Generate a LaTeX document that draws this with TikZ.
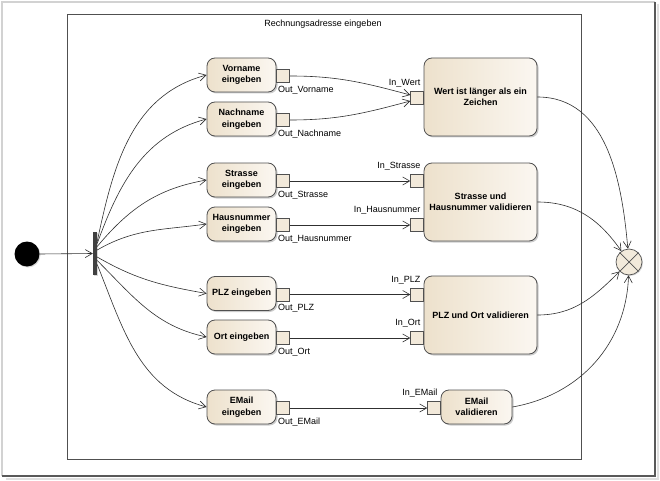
\documentclass[tikz,border=0pt]{standalone}
\usepackage{fontspec}
\setmainfont{Liberation Sans}
\usepackage{tikz}
\usetikzlibrary{arrows.meta,shadows}
\definecolor{actl}{HTML}{EDE1CC}
\definecolor{actr}{HTML}{FBF7F1}
\definecolor{pinfill}{HTML}{F2E9DA}
\definecolor{rim}{HTML}{505050}
\definecolor{wire}{HTML}{303030}
\begin{document}
\begin{tikzpicture}[x=1pt,y=1pt,
    every node/.style={font=\fontsize{9}{11.5}\selectfont},
    action/.style={draw=rim,line width=0.8pt,rounded corners=8pt,left color=actl,right color=actr,
        align=center,inner sep=2pt,minimum height=34pt,
        drop shadow={shadow xshift=1.5pt,shadow yshift=-1.5pt,opacity=0.4},font=\fontsize{9}{11.5}\selectfont\bfseries},
    pinbox/.style={draw=rim,line width=0.7pt,fill=pinfill,minimum size=13pt,inner sep=0pt},
    pinlabel/.style={inner sep=1.5pt},
    flow/.style={draw=wire,line width=0.6pt,-{Straight Barb[length=7pt,width=8pt]}}]
    \useasboundingbox (0,0) rectangle (660,480);
    % Window frame
    \fill[white] (2,4) rectangle (655,478);
    \draw[gray!35,line width=1.5pt] (2,4) -- (2,478) -- (655,478);
    \draw[gray!25,line width=2pt] (657.5,476) -- (657.5,1.5) -- (6,1.5);
    \draw[black!65,line width=1.5pt] (655,478) -- (655,4) -- (2,4);
    % Activity frame
    \draw[rim,line width=0.8pt] (67,21) rectangle (581,466);
    \node (titel) at (323,456) {Rechnungsadresse eingeben};
    % Start and fork
    \node[circle,fill=black,minimum size=25pt,inner sep=0pt,
        drop shadow={shadow xshift=1pt,shadow yshift=-1pt,opacity=0.3}] (start) at (27,226) {};
    \node[fill=black!75,minimum width=4pt,minimum height=43pt,inner sep=0pt,
        drop shadow={shadow xshift=1pt,shadow yshift=-1pt,opacity=0.3}] (fork) at (95,226.5) {};
    \draw[flow] (start.east) -- (fork.west);
    % Input actions with output pins
    \foreach \n/\y/\t/\o in {vorname/405/{Vorname\\eingeben}/Vorname,
        nachname/361/{Nachname\\eingeben}/Nachname,
        strasse/300/{Strasse\\eingeben}/Strasse,
        hausnr/256/{Hausnummer\\eingeben}/Hausnummer,
        plz/186.5/{PLZ eingeben}/PLZ,
        ort/143/{Ort eingeben}/Ort,
        email/73/{EMail\\eingeben}/EMail} {
        \node[action,minimum width=69pt] (\n) at (241.5,\y) {\t};
        \node[pinbox,anchor=west] (out\n) at ([yshift=-1pt]\n.east) {};
        \node[pinlabel,anchor=north west] at ([yshift=-1.5pt]out\n.south west) {Out\_\o};
    }
    % Validation actions
    \node[action,minimum width=113pt,minimum height=78pt] (wert) at (480.5,383) {Wert ist länger als ein\\Zeichen};
    \node[action,minimum width=113pt,minimum height=78pt] (strhnr) at (480.5,278) {Strasse und\\Hausnummer validieren};
    \node[action,minimum width=113pt,minimum height=78pt] (plzort) at (480.5,165) {PLZ und Ort validieren};
    \node[action,minimum width=71pt] (emailval) at (476.5,73) {EMail\\validieren};
    % Input pins
    \foreach \n/\x/\y/\t in {inWert/424/382/Wert, inStrasse/424/299/Strasse, inHausnr/424/255/Hausnummer,
        inPLZ/424/185.5/PLZ, inOrt/424/142/Ort, inEMail/441/72/EMail} {
        \node[pinbox,anchor=east] (\n) at (\x,\y) {};
        \node[pinlabel,anchor=south east] at ([xshift=-2pt,yshift=2pt]\n.north east) {In\_\t};
    }
    % Flow end
    \node[circle,draw=rim,line width=0.7pt,fill=actl!70!white,minimum size=26pt,inner sep=0pt,
        drop shadow={shadow xshift=1pt,shadow yshift=-1pt,opacity=0.3}] (ende) at (629,218) {};
    \draw[rim,line width=0.7pt] (ende.north west) -- (ende.south east) (ende.north east) -- (ende.south west);
    % Fork to inputs
    \foreach \n/\s/\a/\b in {vorname/12/78/195, nachname/10/70/195, strasse/7/50/190, hausnr/3.5/30/188,
        plz/-3.5/-30/170, ort/-7/-45/168, email/-11/-68/165} {
        \draw[flow] ([yshift=\s pt]fork.east) to[out=\a,in=\b] (\n.west);
    }
    % Outputs to inputs
    \draw[flow] (outvorname.east) to[out=0,in=165] ([yshift=3pt]inWert.west);
    \draw[flow] (outnachname.east) to[out=0,in=195] ([yshift=-3pt]inWert.west);
    \foreach \a/\b in {strasse/inStrasse, hausnr/inHausnr, plz/inPLZ, ort/inOrt, email/inEMail} {
        \draw[flow] (out\a.east) -- (\b.west);
    }
    % Validations to end
    \draw[flow] (wert.east) to[out=0,in=95] (ende);
    \draw[flow] (strhnr.east) to[out=0,in=125] (ende);
    \draw[flow] (plzort.east) to[out=0,in=225] (ende);
    \draw[flow] (emailval.east) to[out=10,in=268] (ende);
\end{tikzpicture}
\end{document}
